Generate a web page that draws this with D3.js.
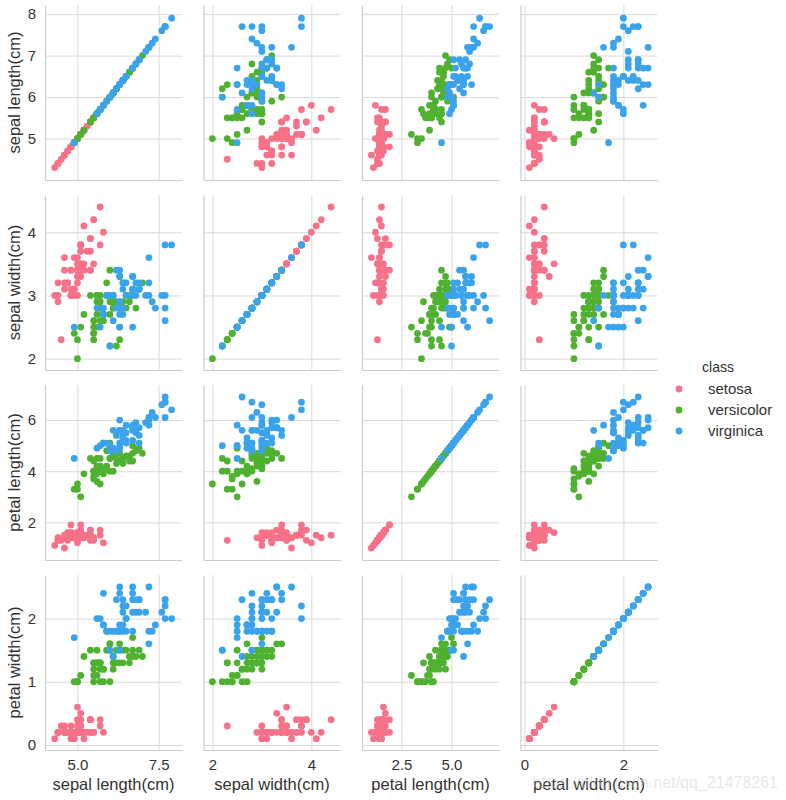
<!DOCTYPE html>
<html>
<head>
<meta charset="utf-8">
<script src="https://cdn.jsdelivr.net/npm/d3@7"></script>
<style>
  html, body { margin: 0; padding: 0; background: #ffffff; }
  svg { display: block; font-family: "Liberation Sans", Arial, sans-serif; }
</style>
</head>
<body>
<svg id="chart" width="786" height="800"></svg>
<script>
// ---------------- data ----------------
const variables = ["sepal length(cm)", "sepal width(cm)", "petal length(cm)", "petal width(cm)"];
const classes = ["setosa", "versicolor", "virginica"];
const classColors = ["#f77189", "#50b131", "#3ba3ec"];
const classSizes = [50, 50, 50];

const sepalLength = [
  5.1,4.9,4.7,4.6,5.0,5.4,4.6,5.0,4.4,4.9,5.4,4.8,4.8,4.3,5.8,5.7,5.4,5.1,5.7,5.1,5.4,5.1,4.6,5.1,4.8,
  5.0,5.0,5.2,5.2,4.7,4.8,5.4,5.2,5.5,4.9,5.0,5.5,4.9,4.4,5.1,5.0,4.5,4.4,5.0,5.1,4.8,5.1,4.6,5.3,5.0,
  7.0,6.4,6.9,5.5,6.5,5.7,6.3,4.9,6.6,5.2,5.0,5.9,6.0,6.1,5.6,6.7,5.6,5.8,6.2,5.6,5.9,6.1,6.3,6.1,6.4,
  6.6,6.8,6.7,6.0,5.7,5.5,5.5,5.8,6.0,5.4,6.0,6.7,6.3,5.6,5.5,5.5,6.1,5.8,5.0,5.6,5.7,5.7,6.2,5.1,5.7,
  6.3,5.8,7.1,6.3,6.5,7.6,4.9,7.3,6.7,7.2,6.5,6.4,6.8,5.7,5.8,6.4,6.5,7.7,7.7,6.0,6.9,5.6,7.7,6.3,6.7,
  7.2,6.2,6.1,6.4,7.2,7.4,7.9,6.4,6.3,6.1,7.7,6.3,6.4,6.0,6.9,6.7,6.9,5.8,6.8,6.7,6.7,6.3,6.5,6.2,5.9
];
const sepalWidth = [
  3.5,3.0,3.2,3.1,3.6,3.9,3.4,3.4,2.9,3.1,3.7,3.4,3.0,3.0,4.0,4.4,3.9,3.5,3.8,3.8,3.4,3.7,3.6,3.3,3.4,
  3.0,3.4,3.5,3.4,3.2,3.1,3.4,4.1,4.2,3.1,3.2,3.5,3.6,3.0,3.4,3.5,2.3,3.2,3.5,3.8,3.0,3.8,3.2,3.7,3.3,
  3.2,3.2,3.1,2.3,2.8,2.8,3.3,2.4,2.9,2.7,2.0,3.0,2.2,2.9,2.9,3.1,3.0,2.7,2.2,2.5,3.2,2.8,2.5,2.8,2.9,
  3.0,2.8,3.0,2.9,2.6,2.4,2.4,2.7,2.7,3.0,3.4,3.1,2.3,3.0,2.5,2.6,3.0,2.6,2.3,2.7,3.0,2.9,2.9,2.5,2.8,
  3.3,2.7,3.0,2.9,3.0,3.0,2.5,2.9,2.5,3.6,3.2,2.7,3.0,2.5,2.8,3.2,3.0,3.8,2.6,2.2,3.2,2.8,2.8,2.7,3.3,
  3.2,2.8,3.0,2.8,3.0,2.8,3.8,2.8,2.8,2.6,3.0,3.4,3.1,3.0,3.1,3.1,3.1,2.7,3.2,3.3,3.0,2.5,3.0,3.4,3.0
];
const petalLength = [
  1.4,1.4,1.3,1.5,1.4,1.7,1.4,1.5,1.4,1.5,1.5,1.6,1.4,1.1,1.2,1.5,1.3,1.4,1.7,1.5,1.7,1.5,1.0,1.7,1.9,
  1.6,1.6,1.5,1.4,1.6,1.6,1.5,1.5,1.4,1.5,1.2,1.3,1.4,1.3,1.5,1.3,1.3,1.3,1.6,1.9,1.4,1.6,1.4,1.5,1.4,
  4.7,4.5,4.9,4.0,4.6,4.5,4.7,3.3,4.6,3.9,3.5,4.2,4.0,4.7,3.6,4.4,4.5,4.1,4.5,3.9,4.8,4.0,4.9,4.7,4.3,
  4.4,4.8,5.0,4.5,3.5,3.8,3.7,3.9,5.1,4.5,4.5,4.7,4.4,4.1,4.0,4.4,4.6,4.0,3.3,4.2,4.2,4.2,4.3,3.0,4.1,
  6.0,5.1,5.9,5.6,5.8,6.6,4.5,6.3,5.8,6.1,5.1,5.3,5.5,5.0,5.1,5.3,5.5,6.7,6.9,5.0,5.7,4.9,6.7,4.9,5.7,
  6.0,4.8,4.9,5.6,5.8,6.1,6.4,5.6,5.1,5.6,6.1,5.6,5.5,4.8,5.4,5.6,5.1,5.1,5.9,5.7,5.2,5.0,5.2,5.4,5.1
];
const petalWidth = [
  0.2,0.2,0.2,0.2,0.2,0.4,0.3,0.2,0.2,0.1,0.2,0.2,0.1,0.1,0.2,0.4,0.4,0.3,0.3,0.3,0.2,0.4,0.2,0.5,0.2,
  0.2,0.4,0.2,0.2,0.2,0.2,0.4,0.1,0.2,0.2,0.2,0.2,0.1,0.2,0.2,0.3,0.3,0.2,0.6,0.4,0.3,0.2,0.2,0.2,0.2,
  1.4,1.5,1.5,1.3,1.5,1.3,1.6,1.0,1.3,1.4,1.0,1.5,1.0,1.4,1.3,1.4,1.5,1.0,1.5,1.1,1.8,1.3,1.5,1.2,1.3,
  1.4,1.4,1.7,1.5,1.0,1.1,1.0,1.2,1.6,1.5,1.6,1.5,1.3,1.3,1.3,1.2,1.4,1.2,1.0,1.3,1.2,1.3,1.3,1.1,1.3,
  2.5,1.9,2.1,1.8,2.2,2.1,1.7,1.8,1.8,2.5,2.0,1.9,2.1,2.0,2.4,2.3,1.8,2.2,2.3,1.5,2.3,2.0,2.0,1.8,2.1,
  1.8,1.8,1.8,2.1,1.6,1.9,2.0,2.2,1.5,1.4,2.3,2.4,1.8,1.8,2.1,2.4,2.3,1.9,2.3,2.5,2.3,1.9,2.0,2.3,1.8
];

// axis domains and ticks
const domains = [[4.0, 8.22], [1.82, 4.59], [0.53, 7.37], [-0.08, 2.69]];
const xTicks = [[5.0, 7.5], [2, 4], [2.5, 5.0], [0, 2]];
const yTicks = [[5, 6, 7, 8], [2, 3, 4], [2, 4, 6], [0, 1, 2]];
const xTickFormats = [".1f", "d", ".1f", "d"];
const yTickFormats = ["d", "d", "d", "d"];
const watermark = "https://blog.csdn.net/qq_21478261";

// ---------------- layout ----------------
const colLeft = 45, colPitch = 158.5, panelW = 137;
const rowTop = 5, rowPitch = 190, panelH = 175;
const gridColor = "#d9d9d9", spineColor = "#cccccc", textColor = "#333333";

const columns = [sepalLength, sepalWidth, petalLength, petalWidth];
const classOf = [];
classSizes.forEach((n, ci) => { for (let k = 0; k < n; k++) classOf.push(ci); });

const svg = d3.select("#chart");

for (let r = 0; r < 4; r++) {
  for (let c = 0; c < 4; c++) {
    const x0 = colLeft + c * colPitch, y0 = rowTop + r * rowPitch;
    const xs = d3.scaleLinear().domain(domains[c]).range([0, panelW]);
    const ys = d3.scaleLinear().domain(domains[r]).range([panelH, 0]);
    const g = svg.append("g").attr("transform", `translate(${x0},${y0})`);

    // x grid + spine + labels
    const xa = g.append("g").attr("transform", `translate(0,${panelH})`)
      .call(d3.axisBottom(xs).tickValues(xTicks[c]).tickSizeInner(-panelH).tickSizeOuter(0)
        .tickPadding(9).tickFormat(r === 3 ? d3.format(xTickFormats[c]) : () => ""));
    xa.selectAll(".tick line").attr("stroke", gridColor).attr("stroke-width", 1);
    xa.select(".domain").attr("stroke", spineColor).attr("stroke-width", 1.2);
    xa.selectAll("text").attr("fill", textColor).style("font-size", "15px")
      .style("font-family", "'Liberation Sans', Arial, sans-serif");

    // y grid + spine + labels
    const ya = g.append("g")
      .call(d3.axisLeft(ys).tickValues(yTicks[r]).tickSizeInner(-panelW).tickSizeOuter(0)
        .tickPadding(9).tickFormat(c === 0 ? d3.format(yTickFormats[r]) : () => ""));
    ya.selectAll(".tick line").attr("stroke", gridColor).attr("stroke-width", 1);
    ya.select(".domain").attr("stroke", spineColor).attr("stroke-width", 1.2);
    ya.selectAll("text").attr("fill", textColor).style("font-size", "15px")
      .style("font-family", "'Liberation Sans', Arial, sans-serif");

    // points
    const idx = d3.range(sepalLength.length);
    g.append("g").selectAll("circle").data(idx).join("circle")
      .attr("cx", i => xs(columns[c][i]))
      .attr("cy", i => ys(columns[r][i]))
      .attr("r", 3.4)
      .attr("fill", i => classColors[classOf[i]]);

    if (r === 3) {
      svg.append("text").attr("x", x0 + panelW / 2).attr("y", y0 + panelH + 40)
        .attr("text-anchor", "middle").attr("fill", textColor)
        .style("font-size", "16.5px").text(variables[c]);
    }
    if (c === 0) {
      svg.append("text")
        .attr("transform", `translate(20,${y0 + panelH / 2}) rotate(-90)`)
        .attr("text-anchor", "middle").attr("fill", textColor)
        .style("font-size", "16.5px").text(variables[r]);
    }
  }
}

// legend
const lg = svg.append("g");
lg.append("text").attr("x", 718).attr("y", 372).attr("text-anchor", "middle")
  .attr("fill", textColor).style("font-size", "14px").text("class");
classes.forEach((name, i) => {
  lg.append("circle").attr("cx", 679).attr("cy", 389 + i * 21).attr("r", 3.4).attr("fill", classColors[i]);
  lg.append("text").attr("x", 708).attr("y", 394 + i * 21).attr("fill", textColor)
    .style("font-size", "15px").text(name);
});

// faint watermark
svg.append("text").attr("x", 778).attr("y", 788).attr("text-anchor", "end")
  .attr("fill", "#c8c8c8").attr("fill-opacity", 0.45)
  .style("font-size", "16px").text(watermark);
</script>
</body>
</html>
